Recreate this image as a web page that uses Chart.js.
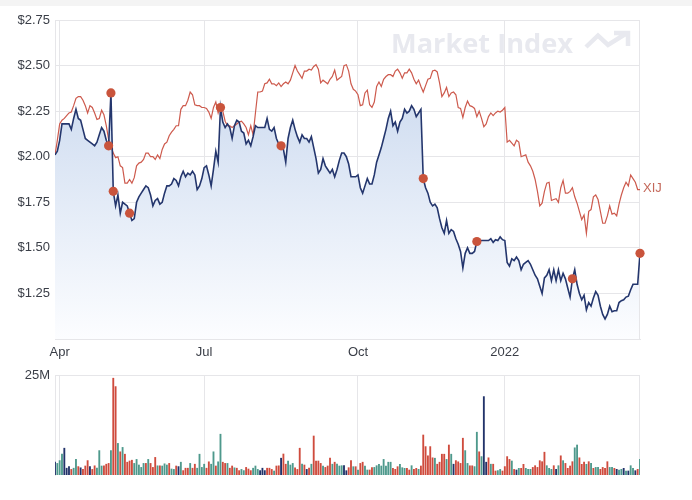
<!DOCTYPE html>
<html>
<head>
<meta charset="utf-8">
<script src="https://cdn.jsdelivr.net/npm/chart.js@4"></script>
<style>
  body { margin:0; background:#fff; }
  #strip { position:absolute; left:0; top:0; width:692px; height:6px; background:#f4f4f4; }
  #priceBox { position:absolute; left:0; top:0; }
  #volBox { position:absolute; left:0; top:362px; }
</style>
</head>
<body>
<div id="strip"></div>
<div id="priceBox"><canvas id="priceChart" width="692" height="362"></canvas></div>
<div id="volBox"><canvas id="volChart" width="692" height="138"></canvas></div>
<script>
// trading days, Mar 30 2021 .. end of Mar 2022
const price = [
  2.01,2.03,2.09,2.18,2.18,2.18,2.18,2.15,2.21,2.26,
  2.21,2.20,2.15,2.10,2.09,2.08,2.07,2.06,2.08,2.12,
  2.16,2.14,2.09,2.06,2.35,1.81,1.73,1.79,1.69,1.75,
  1.74,1.73,1.69,1.65,1.66,1.75,1.78,1.80,1.82,1.84,
  1.83,1.79,1.73,1.76,1.77,1.74,1.75,1.80,1.84,1.84,
  1.85,1.88,1.87,1.84,1.89,1.92,1.89,1.91,1.90,1.92,
  1.90,1.82,1.84,1.88,1.94,1.95,1.90,1.84,1.93,2.03,
  1.97,2.27,2.19,2.16,2.18,2.16,2.10,2.17,2.20,2.19,
  2.14,2.13,2.07,2.09,2.06,2.11,2.17,2.16,2.16,2.16,
  2.16,2.21,2.15,2.14,2.16,2.10,2.07,2.06,2.04,1.97,
  2.10,2.16,2.20,2.15,2.11,2.08,2.12,2.10,2.10,2.08,
  2.11,2.05,1.99,1.91,1.93,1.99,1.95,1.93,1.91,1.93,
  1.89,1.93,1.98,2.02,2.02,2.00,1.96,1.89,1.89,1.89,
  1.90,1.83,1.80,1.84,1.88,1.85,1.85,1.90,1.97,2.01,
  2.05,2.10,2.15,2.21,2.25,2.17,2.19,2.14,2.19,2.21,
  2.26,2.24,2.25,2.28,2.26,2.22,2.24,2.26,1.88,1.83,
  1.80,1.75,1.73,1.74,1.72,1.66,1.61,1.58,1.65,1.58,
  1.60,1.59,1.55,1.52,1.48,1.39,1.47,1.50,1.47,1.47,
  1.48,1.535,1.54,1.54,1.54,1.54,1.54,1.55,1.53,1.545,
  1.54,1.56,1.545,1.54,1.42,1.40,1.44,1.43,1.45,1.43,
  1.38,1.41,1.42,1.43,1.41,1.38,1.35,1.33,1.29,1.25,
  1.335,1.35,1.38,1.32,1.38,1.32,1.38,1.32,1.36,1.33,
  1.28,1.23,1.33,1.38,1.30,1.25,1.215,1.24,1.16,1.20,
  1.18,1.225,1.26,1.24,1.18,1.135,1.11,1.135,1.18,1.15,
  1.155,1.155,1.20,1.21,1.215,1.23,1.235,1.27,1.30,1.30,
  1.30,1.47
];

const xij = [
  2.01,2.09,2.18,2.20,2.21,2.225,2.24,2.245,2.28,2.32,
  2.33,2.33,2.31,2.28,2.24,2.28,2.27,2.24,2.205,2.21,
  2.255,2.23,2.17,2.095,2.06,2.02,1.995,2.00,1.95,1.94,
  1.855,1.855,1.875,1.855,1.885,1.95,1.965,1.97,1.985,2.02,
  2.02,2.00,2.00,1.985,2.01,1.99,2.04,2.07,2.08,2.115,
  2.135,2.15,2.17,2.17,2.26,2.28,2.28,2.31,2.355,2.34,
  2.285,2.28,2.28,2.27,2.27,2.265,2.245,2.21,2.27,2.30,
  2.24,2.285,2.25,2.195,2.17,2.17,2.16,2.17,2.18,2.19,
  2.195,2.18,2.16,2.12,2.17,2.12,2.24,2.355,2.355,2.36,
  2.40,2.405,2.425,2.40,2.40,2.39,2.405,2.385,2.40,2.41,
  2.40,2.42,2.46,2.50,2.47,2.45,2.43,2.47,2.47,2.48,
  2.475,2.495,2.505,2.48,2.405,2.42,2.41,2.40,2.425,2.44,
  2.475,2.42,2.43,2.44,2.50,2.505,2.47,2.40,2.37,2.36,
  2.34,2.28,2.285,2.35,2.365,2.285,2.27,2.30,2.385,2.41,
  2.385,2.425,2.44,2.45,2.45,2.44,2.47,2.48,2.46,2.43,
  2.46,2.46,2.48,2.46,2.425,2.40,2.42,2.385,2.355,2.39,
  2.425,2.43,2.47,2.475,2.465,2.405,2.33,2.35,2.38,2.33,
  2.35,2.355,2.34,2.27,2.265,2.215,2.27,2.305,2.28,2.275,
  2.265,2.22,2.25,2.21,2.165,2.18,2.22,2.24,2.225,2.24,
  2.25,2.245,2.255,2.27,2.08,2.09,2.075,2.06,2.09,2.08,
  2.00,2.005,2.01,1.97,1.95,1.92,1.875,1.81,1.73,1.745,
  1.81,1.855,1.86,1.76,1.765,1.77,1.75,1.83,1.87,1.80,
  1.80,1.81,1.83,1.78,1.745,1.70,1.655,1.68,1.58,1.70,
  1.71,1.78,1.79,1.765,1.70,1.635,1.635,1.675,1.73,1.685,
  1.69,1.675,1.74,1.79,1.83,1.86,1.84,1.90,1.88,1.86,
  1.82,1.82
];

// daily volume, millions of shares
const volume = [
  3.2,2.9,3.6,5.25,6.7,1.7,2.1,1.4,1.7,3.9,
  2.1,1.8,1.4,2.25,3.6,2.1,1.4,2.3,1.7,6.1,
  2.25,2.3,2.7,2.9,6.1,24.2,22.1,7.9,5.8,6.9,
  5.2,3.2,3.5,3.7,2.9,3.9,2.5,1.9,2.9,2.9,
  3.9,2.9,1.9,4.4,2.3,2.3,2.25,2.8,2.5,2.9,
  1.5,1.4,2.25,2.1,3.2,1.1,1.7,1.7,2.9,1.7,
  2.7,1.7,5.2,1.9,2.7,1.7,3.3,2.7,5.8,2.25,
  3.3,10.2,3.2,2.9,2.9,1.7,2.25,1.8,1.7,1.1,
  1.4,1.1,1.9,1.5,1.1,1.7,2.25,1.4,1.1,1.7,
  1.1,1.7,1.7,1.4,1.0,2.25,2.3,4.2,5.25,2.7,
  3.5,2.5,2.9,1.8,1.4,6.7,2.7,2.5,1.4,1.7,
  2.7,9.75,3.5,3.5,2.9,2.25,1.9,2.25,4.2,2.7,
  3.2,2.7,2.25,2.33,2.33,1.08,1.83,3.58,2.08,2.08,
  1.25,2.9,3.2,2.25,1.25,1.25,1.83,1.9,2.33,2.67,
  2.25,3.9,2.25,3.2,3.2,1.67,1.42,2.08,2.67,1.83,
  1.67,1.67,1.25,2.33,1.42,1.67,1.42,2.25,10.0,7.1,
  4.8,7.1,4.3,4.2,2.7,3.2,5.2,5.2,3.9,7.5,
  5.2,2.7,3.6,3.3,2.9,9.2,6.1,2.9,2.3,2.3,
  2.1,10.7,5.8,4.6,19.6,3.2,4.3,2.7,2.7,1.0,
  1.1,1.4,1.0,2.1,4.6,3.9,3.5,1.4,1.25,1.67,
  1.67,2.67,1.67,1.42,1.42,1.9,2.33,1.9,3.58,3.33,
  5.7,2.33,1.67,1.42,2.33,1.42,2.33,4.8,3.58,2.9,
  1.67,2.25,3.33,6.8,7.5,4.3,2.67,3.2,2.67,3.33,
  2.9,1.67,1.9,1.9,1.42,1.9,1.67,3.33,1.9,1.9,
  1.67,1.42,1.25,1.42,1.67,1.0,1.0,2.33,1.67,1.08,
  1.42,3.9
];

// r = down day, t = up day, n = unchanged
const volDirection =
  "ntttnnnrtt" + "rnrrrnrrtt" + "trrrtrrtrt" + "rrrrtttttr" + "trrrtrtttr" +
  "ttrntrrrtr" + "rttttrrttr" + "ttrrtrrtrr" + "ttrrrtttnn" + "nrrrtrrnrr" +
  "tttrrrtrnr" + "trrrrtrrrt" + "rtttnnrrtr" + "trrttrrttt" + "tttttrrrtt" +
  "trrtrrtrrr" + "rrrtrrrrtr" + "tnrrrrttrr" + "ttrtnnrtrr" + "ttrrrrtrnt" +
  "rrtttrrrrr" + "rtttrntrtr" + "rrrttrrrtr" + "trttrrrrtt" + "rnttntnttn" + "rt";

const announcements = [23, 24, 25, 32, 71, 97, 158, 181, 222, 251];

const tickDays = [2, 64, 130, 193];
const tickLabels = ['Apr', 'Jul', 'Oct', '2022'];
const priceMin = 1.0, priceMax = 2.75, priceStep = 0.25;
const volumeMax = 25;

const gridCol = '#e6e6e9';
const textCol = '#3a3e47';
const barCols = { r: '#cf4b3d', t: '#4e998c', n: '#22336a' };

Chart.defaults.font.family = '"Liberation Sans", Arial, sans-serif';
Chart.defaults.font.size = 13;
Chart.defaults.color = textCol;

function dayAxis(showLabels) {
  return {
    type: 'linear',
    min: 0,
    max: price.length - 1,
    offset: false,
    afterBuildTicks: s => { s.ticks = tickDays.map(v => ({ value: v })); },
    afterFit: s => { s.height = showLabels ? 23 : 0; },
    ticks: {
      display: showLabels,
      autoSkip: false,
      maxRotation: 0,
      padding: 6,
      callback: (v, i) => tickLabels[i]
    },
    grid: { color: gridCol, drawTicks: false, offset: false },
    border: { display: showLabels, color: gridCol }
  };
}

// right (and top) edge of the plot box
const frame = {
  id: 'frame',
  beforeDatasetsDraw(chart) {
    const { ctx, chartArea: a } = chart;
    ctx.save();
    ctx.strokeStyle = gridCol;
    ctx.lineWidth = 1;
    ctx.beginPath();
    ctx.moveTo(a.left, a.top + 0.5);
    ctx.lineTo(a.right, a.top + 0.5);
    ctx.moveTo(a.right - 0.5, a.top);
    ctx.lineTo(a.right - 0.5, a.bottom);
    ctx.stroke();
    ctx.restore();
  }
};

const watermark = {
  id: 'watermark',
  beforeDatasetsDraw(chart) {
    const ctx = chart.ctx;
    ctx.save();
    ctx.fillStyle = '#e8e9ef';
    ctx.font = 'bold 27px "Open Sans", "Noto Sans", sans-serif';
    ctx.textBaseline = 'alphabetic';
    const w = ctx.measureText('Market Index').width;
    ctx.translate(391, 53);
    ctx.scale(182 / w, 1);
    ctx.fillText('Market Index', 0, 0);
    ctx.restore();
    ctx.save();
    ctx.strokeStyle = '#e8e9ef';
    ctx.lineWidth = 4.5;
    ctx.beginPath();
    ctx.moveTo(586, 47);
    ctx.lineTo(598, 35.5);
    ctx.lineTo(608, 45);
    ctx.lineTo(627, 33);
    ctx.moveTo(614, 33);
    ctx.lineTo(628, 33);
    ctx.lineTo(628, 46);
    ctx.stroke();
    ctx.restore();
  }
};

const seriesLabel = {
  id: 'seriesLabel',
  afterDraw(chart) {
    const ctx = chart.ctx;
    const x = chart.scales.x.getPixelForValue(xij.length - 1);
    const y = chart.scales.y.getPixelForValue(xij[xij.length - 1]);
    ctx.save();
    ctx.fillStyle = '#c4685a';
    ctx.font = '13px "Liberation Sans", Arial, sans-serif';
    ctx.textBaseline = 'middle';
    ctx.fillText('XIJ', x + 3, y - 1);
    ctx.restore();
  }
};

new Chart(document.getElementById('priceChart'), {
  type: 'line',
  data: {
    datasets: [
      {
        type: 'scatter',
        data: announcements.map(i => ({ x: i, y: price[i] })),
        pointRadius: 4.6,
        pointHoverRadius: 4.6,
        backgroundColor: '#c9543c',
        borderWidth: 0,
        clip: false,
        order: 0
      },
      {
        data: price.map((v, i) => ({ x: i, y: v })),
        borderColor: '#24366d',
        borderWidth: 1.6,
        pointRadius: 0,
        tension: 0,
        fill: 'start',
        backgroundColor: c => {
          const a = c.chart.chartArea;
          if (!a) return 'rgba(0,0,0,0)';
          const g = c.chart.ctx.createLinearGradient(0, a.top, 0, a.bottom);
          g.addColorStop(0, '#c2d3ec');
          g.addColorStop(1, '#fcfdff');
          return g;
        },
        order: 1
      },
      {
        data: xij.map((v, i) => ({ x: i, y: v })),
        borderColor: '#cd5a4d',
        borderWidth: 1.2,
        pointRadius: 0,
        tension: 0,
        fill: false,
        order: 2
      }
    ]
  },
  options: {
    responsive: false,
    animation: false,
    events: [],
    layout: { padding: { top: 20, right: 52, left: 0, bottom: 0 } },
    plugins: {
      legend: { display: false },
      tooltip: { enabled: false },
      filler: { drawTime: 'beforeDatasetsDraw' }
    },
    scales: {
      x: dayAxis(true),
      y: {
        min: priceMin,
        max: priceMax,
        afterFit: s => { s.width = 55; },
        ticks: {
          stepSize: priceStep,
          padding: 5,
          callback: v => v <= priceMin ? '' : '$' + v.toFixed(2)
        },
        grid: { color: gridCol, drawTicks: false },
        border: { color: gridCol }
      }
    }
  },
  plugins: [frame, watermark, seriesLabel]
});

new Chart(document.getElementById('volChart'), {
  type: 'bar',
  data: {
    datasets: [{
      data: volume.map((v, i) => ({ x: i, y: v })),
      backgroundColor: volume.map((v, i) => barCols[volDirection[i]]),
      barThickness: 1.2,
      borderWidth: 0
    }]
  },
  options: {
    responsive: false,
    animation: false,
    events: [],
    layout: { padding: { top: 13, right: 52, left: 0, bottom: 25 } },
    plugins: { legend: { display: false }, tooltip: { enabled: false } },
    scales: {
      x: dayAxis(false),
      y: {
        min: 0,
        max: volumeMax,
        afterFit: s => { s.width = 55; },
        afterBuildTicks: s => { s.ticks = [{ value: volumeMax }]; },
        ticks: { padding: 5, callback: v => v + 'M' },
        grid: { color: gridCol, drawTicks: false },
        border: { color: gridCol }
      }
    }
  },
  plugins: [frame]
});
</script>
</body>
</html>
